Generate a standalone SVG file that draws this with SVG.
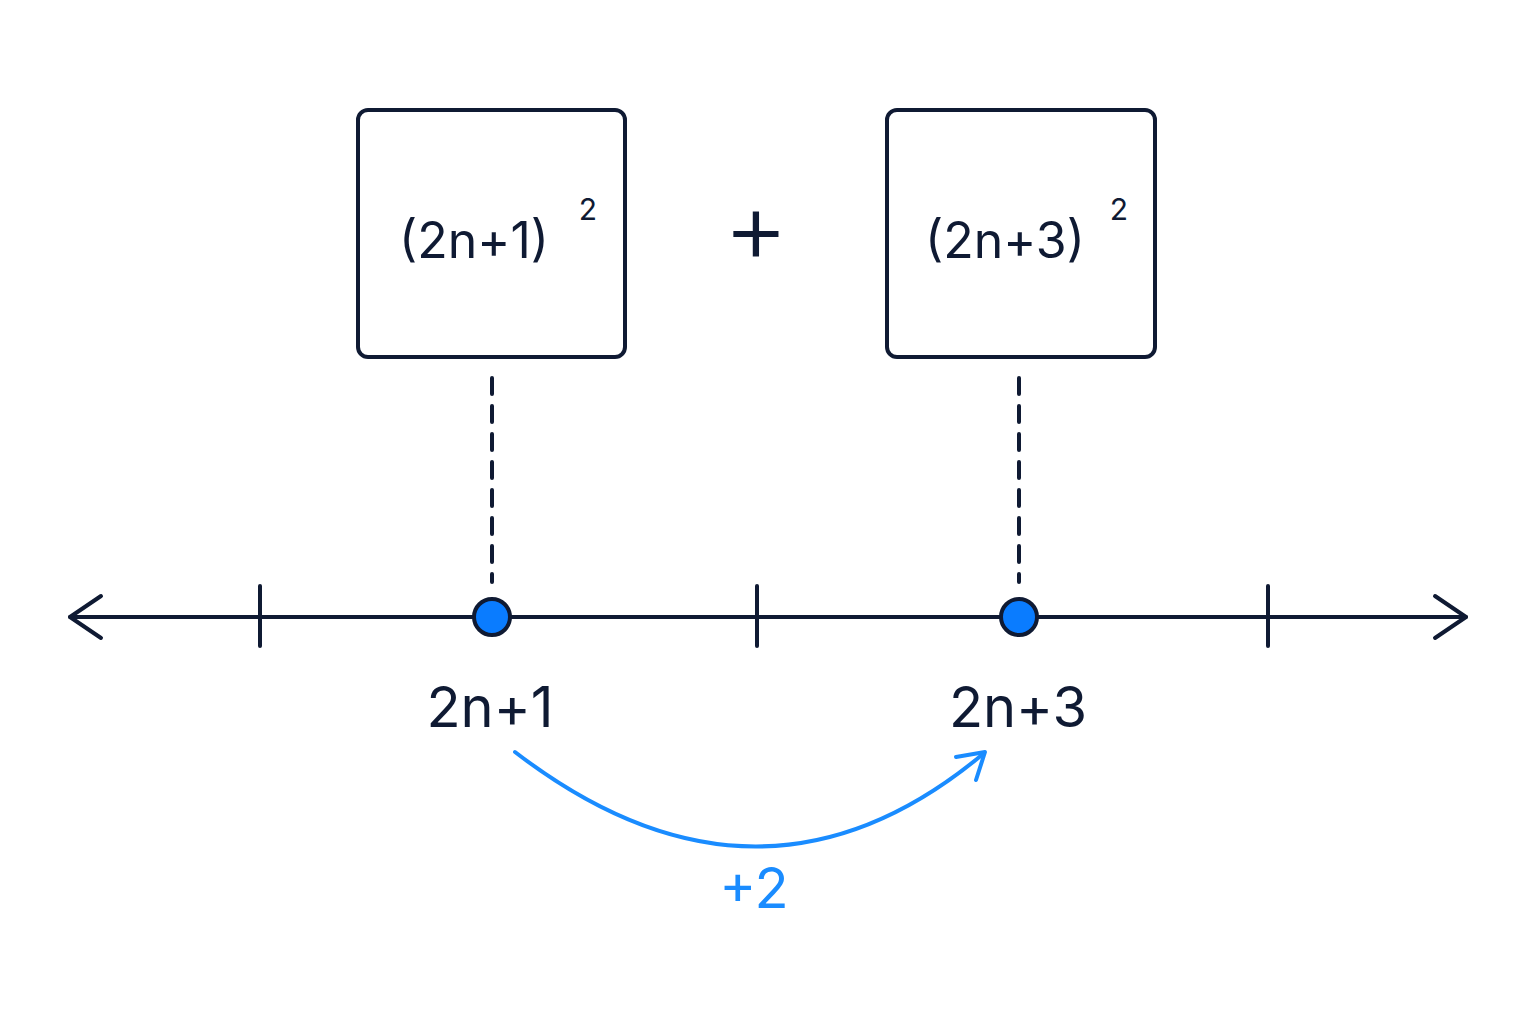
<svg xmlns="http://www.w3.org/2000/svg" width="1536" height="1024" viewBox="0 0 1536 1024">
<style>
.d{stroke:#0f1a33;fill:none;stroke-width:4;stroke-linecap:round;stroke-linejoin:round}
.t{font-family:Inter,"Noto Sans",sans-serif;fill:#0f1a33}
.b{fill:#1a8cff;font-family:Inter,"Noto Sans",sans-serif}
</style>
<rect width="1536" height="1024" fill="#fff"/>
<g id="connectors">
<line class="d" x1="492" y1="378" x2="492" y2="582" stroke-dasharray="16,12"/>
<line class="d" x1="1019" y1="378" x2="1019" y2="582" stroke-dasharray="16,12"/>
<path d="M515,752 Q760,940 983,754" fill="none" stroke="#1a8cff" stroke-width="4" stroke-linecap="round"/>
<path d="M956,757 L985,752 L976,780" fill="none" stroke="#1a8cff" stroke-width="4" stroke-linecap="round" stroke-linejoin="round"/>
</g>
<g id="axis">
<line class="d" x1="70" y1="617" x2="1466" y2="617"/>
<path class="d" d="M101,596 L70,617 L101,638"/>
<path class="d" d="M1435,596 L1466,617 L1435,638"/>
<line class="d" x1="260" y1="586" x2="260" y2="646"/>
<line class="d" x1="757" y1="586" x2="757" y2="646"/>
<line class="d" x1="1268" y1="586" x2="1268" y2="646"/>
</g>
<g id="box1">
<rect class="d" x="358" y="110" width="267" height="247" rx="10"/>
<text class="t" x="474" y="258" font-size="50" text-anchor="middle">(2n+1)</text>
<text class="t" x="588" y="220" font-size="30" text-anchor="middle">2</text>
</g>
<g id="plus"><text class="t" x="756" y="262" font-size="100" font-weight="300" text-anchor="middle">+</text></g>
<g id="box2">
<rect class="d" x="887" y="110" width="268" height="247" rx="10"/>
<text class="t" x="1005" y="258" font-size="50" text-anchor="middle">(2n+3)</text>
<text class="t" x="1119" y="220" font-size="30" text-anchor="middle">2</text>
</g>
<g id="p1">
<circle cx="492" cy="617" r="18" fill="#0a7cff" stroke="#0f1a33" stroke-width="4"/>
<text class="t" x="490" y="727" font-size="56" text-anchor="middle">2n+1</text>
</g>
<g id="p2">
<circle cx="1019" cy="617" r="18" fill="#0a7cff" stroke="#0f1a33" stroke-width="4"/>
<text class="t" x="1018" y="727" font-size="56" text-anchor="middle">2n+3</text>
</g>
<g id="step"><text class="b" x="754" y="908" font-size="56" text-anchor="middle">+2</text></g>
</svg>
